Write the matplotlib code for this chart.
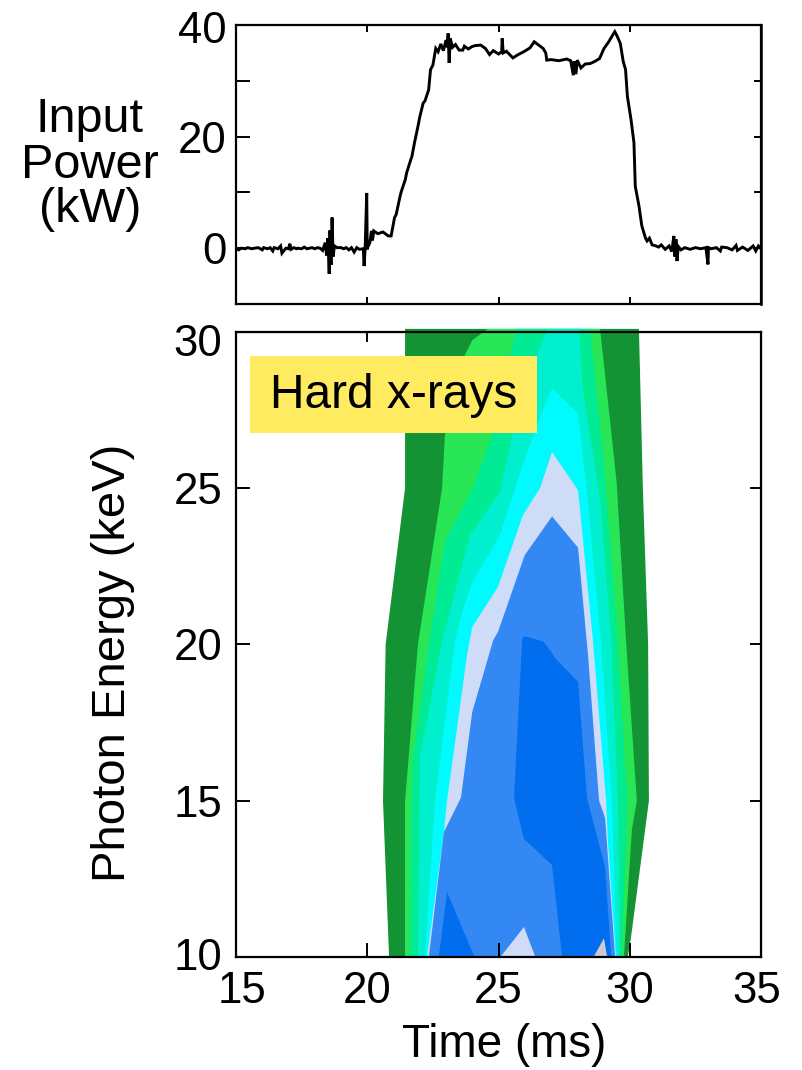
import matplotlib
matplotlib.use("Agg")
import matplotlib.pyplot as plt
from matplotlib.patches import Rectangle
from matplotlib.transforms import ScaledTranslation

plt.rcParams['font.family'] = ['Liberation Sans', 'DejaVu Sans']

# ---------- input power trace (time ms, power kW) ----------
time_ms = [15.0,15.1,15.2,15.35,15.45,15.6,15.7,15.85,16.0,16.05,16.2,16.3,16.4,16.45,16.6,16.7,16.75,16.9,
           17.0,17.05,17.1,17.2,17.3,17.35,17.5,17.6,17.7,17.9,18.0,18.1,18.2,18.3,18.4,18.45,18.5,18.55,18.58,
           18.62,18.66,18.7,18.75,18.85,19.0,19.1,19.2,19.3,19.4,19.5,19.6,19.7,19.85,19.88,19.92,19.98,20.0,20.02,
           20.1,20.16,20.2,20.25,20.4,20.6,20.8,20.91,21.04,21.1,21.25,21.3,21.45,21.5,21.66,21.7,21.8,21.85,21.93,
           22.0,22.13,22.2,22.34,22.41,22.5,22.61,22.7,22.8,22.9,23.0,23.05,23.08,23.12,23.16,23.25,23.36,23.5,
           23.64,23.7,23.85,23.98,24.1,24.32,24.5,24.66,24.8,25.0,25.12,25.14,25.18,25.3,25.55,25.75,25.96,
           26.2,26.36,26.5,26.7,26.8,26.84,27.0,27.3,27.6,27.75,27.85,27.88,27.95,28.0,28.14,28.3,28.5,
           28.68,28.85,29.02,29.2,29.35,29.43,29.52,29.64,29.75,29.84,29.91,30.05,30.16,30.21,30.35,30.46,
           30.6,30.66,30.75,30.85,31.0,31.1,31.2,31.35,31.5,31.6,31.68,31.72,31.76,31.8,31.85,31.95,32.1,32.3,
           32.5,32.7,32.9,32.98,33.0,33.1,33.3,33.45,33.5,33.7,33.9,34.05,34.1,34.3,34.5,34.7,34.8,34.9,35.0]
power_kw = [0.0,-0.3,0.0,-0.1,0.1,-0.1,0.0,0.1,-0.3,0.1,-0.1,0.1,-0.5,0.1,-0.1,0.4,-0.9,0.0,
            -0.1,0.8,-0.2,0.1,-0.1,0.0,-0.1,0.2,-0.1,0.1,-0.1,0.1,0.0,-0.4,1.0,-1.3,1.8,-4.6,3.2,
            -3.0,5.5,-1.5,0.4,0.1,0.1,-0.1,0.1,-0.3,0.1,-0.7,0.1,-0.2,-0.1,-3.2,0.0,9.9,-0.2,0.2,
            1.0,3.1,1.4,3.1,2.6,2.9,2.2,2.2,5.5,6.0,9.3,10.2,12.3,13.5,15.9,16.4,18.9,20.0,21.8,
            23.5,26.0,26.4,28.4,32.0,32.8,35.8,35.2,36.6,35.4,37.3,36.0,38.5,33.2,37.6,36.0,36.5,35.5,
            35.5,36.2,35.7,36.1,36.3,36.4,35.8,34.7,35.4,34.8,35.2,37.6,35.0,35.3,34.1,34.7,35.2,
            35.9,37.0,36.5,35.8,35.0,33.7,33.8,33.6,33.9,33.6,31.0,33.5,31.2,33.7,32.3,33.0,33.1,
            33.5,34.0,35.8,37.0,38.2,38.8,38.0,36.7,33.5,32.0,27.2,23.0,18.9,11.1,7.6,4.0,
            1.8,1.3,1.8,0.6,0.4,0.2,0.6,-0.2,0.4,-0.6,2.2,-1.5,1.6,-2.3,0.3,-0.3,0.1,-0.2,
            0.1,-0.1,0.1,-2.9,0.1,-0.1,0.1,-0.5,0.2,0.1,-0.3,0.5,-0.4,0.2,-0.4,0.4,-0.5,0.4,-0.1]
power_ticks = [-10, 0, 10, 20, 30, 40]
power_labels = ['', '0', '', '20', '', '40']

# ---------- hard x-ray contour bands, outer to inner (time ms, energy keV) ----------
band1_t = [20.83,20.6,20.7,21.44,21.44,30.35,30.5,30.7,30.73,30.05,29.93]
band1_e = [10.03,15,20,25,30.1,30.1,25,20,15,10.64,10.03]
band2_t = [21.44,21.44,21.93,22.85,22.96,23.72,24.0,24.6,28.87,29.5,29.86,30.27,30.08,29.78]
band2_e = [10.03,15,20,25,26.7,29.26,29.74,30.1,30.1,25.2,20.1,15,14.06,10.03]
band3_t = [21.63,21.68,21.75,22.35,22.96,24.03,24.75,25.67,28.49,29.06,29.55,29.9,29.7]
band3_e = [10.03,15,16.4,20,23.3,25,26.7,30.1,30.1,25.4,20.1,15,10.03]
band4_t = [21.93,22.0,22.85,23.91,25.06,25.55,26.47,26.85,28.07,28.22,28.87,29.3,29.55,29.63]
band4_e = [10.03,16.4,20.1,23.5,24.9,26.8,29.3,30.1,30.1,28.08,24.7,20.1,15,10.03]
band5_t = [22.2,22.58,23.34,23.6,24.0,25.06,25.82,26.5,27.04,28.03,28.37,28.9,29.32,29.51]
band5_e = [10.03,15,20.1,21.0,22.0,23.5,25.5,27.1,28.2,27.4,24.9,20.1,15,10.03]
band6_t = [22.28,22.92,23.04,23.8,24.0,24.98,25.93,26.58,27.04,28.03,28.6,29.1,29.17,29.47]
band6_e = [10.03,14,15,19.66,20.56,21.84,24.14,25,26.16,24.94,20.1,15,13.7,10.03]
band7_t = [22.35,22.92,23.57,24.0,24.8,24.98,26.0,27.04,28.03,28.41,28.83,29.06,29.44]
band7_e = [10.03,14,15.1,17.84,20.14,20.4,22.86,24.1,23.1,19.66,15,14.45,10.03]
band8_t = [25.9,25.97,26.7,27.04,27.15,28.03,28.37,29.06,29.29,27.42,27.04,25.97,25.59]
band8_e = [20.14,20.27,20.1,19.73,19.57,18.8,15.09,12.88,10.03,10.03,12.94,13.78,15.09]
patch_dark_t = [22.73,23.04,24.07]
patch_dark_e = [10.03,12.08,10.03]
patch_light_t = [25.1,25.97,26.39]
patch_light_e = [10.03,10.96,10.03]
patch_grey_t = [28.64,29.02,29.13]
patch_grey_e = [10.03,10.6,10.03]

band_colors = ['#149334','#28E655','#00EB93','#00EFCF','#00FBFF','#CFDCF7','#3388F3','#006EEF']
time_ticks = [15,20,25,30,35]
energy_ticks = [10,15,20,25,30]

W, H = 802, 1070
fig = plt.figure(figsize=(W/100, H/100), dpi=100)
L, R = 236, 761
ax1 = fig.add_axes([L/W, 1-304/H, (R-L)/W, 279/H])
ax2 = fig.add_axes([L/W, 1-957/H, (R-L)/W, 625/H])

FS = 31.5
ax1.plot(time_ms, power_kw, color='black', lw=2.1, solid_joinstyle='miter')
ax1.set_xlim(15, 35); ax1.set_ylim(-10, 40)
ax1.set_yticks(power_ticks); ax1.set_yticklabels(power_labels, fontsize=FS)
ax1.set_xticks(time_ticks); ax1.set_xticklabels([])
ax1.tick_params(axis='y', direction='in', length=10, width=1.4, left=True, right=False, pad=7)
ax1.tick_params(axis='x', direction='in', length=5, width=1.4, top=True, bottom=True)
ax1r = ax1.secondary_yaxis('right')
ax1r.set_yticks(power_ticks); ax1r.set_yticklabels([])
ax1r.tick_params(direction='in', length=5, width=1.4)
ax1r.spines['right'].set_linewidth(1.8)

bands = [(band1_t,band1_e),(band2_t,band2_e),(band3_t,band3_e),(band4_t,band4_e),
         (band5_t,band5_e),(band6_t,band6_e),(band7_t,band7_e),(band8_t,band8_e)]
for (t, e), c in zip(bands, band_colors):
    ax2.fill(t, e, color=c, lw=0, clip_on=False, zorder=1)
ax2.fill(patch_dark_t, patch_dark_e, color=band_colors[7], lw=0, zorder=1.1)
ax2.fill(patch_light_t, patch_light_e, color=band_colors[5], lw=0, zorder=1.1)
ax2.fill(patch_grey_t, patch_grey_e, color='#CCCCCC', lw=0, zorder=1.1)
ax2.set_xlim(15, 35); ax2.set_ylim(10, 30)
ax2.set_xticks(time_ticks); ax2.set_xticklabels([str(v) for v in time_ticks], fontsize=FS)
ax2.set_yticks(energy_ticks); ax2.set_yticklabels([str(v) for v in energy_ticks], fontsize=FS)
ax2.tick_params(axis='y', direction='in', length=10, width=1.4, left=True, right=False, pad=10)
ax2.tick_params(axis='x', direction='in', length=10, width=1.4, bottom=True, top=False, pad=10)
ax2t = ax2.secondary_xaxis('top')
ax2t.set_xticks(time_ticks); ax2t.set_xticklabels([])
ax2t.tick_params(direction='in', length=7, width=1.4)
ax2r = ax2.secondary_yaxis('right')
ax2r.set_yticks(energy_ticks); ax2r.set_yticklabels([])
ax2r.tick_params(direction='in', length=8, width=1.4)
for ax in (ax1, ax2):
    for s in ax.spines.values():
        s.set_linewidth(1.6)
    ax.set_facecolor('white')

def shift(label, dx_px, dy_px):
    label.set_transform(label.get_transform() + ScaledTranslation(dx_px/100, dy_px/100, fig.dpi_scale_trans))
ylabels2 = ax2.get_yticklabels()
shift(ylabels2[0], 0, 3); shift(ylabels2[-1], 0, -8)
xlabels2 = ax2.get_xticklabels()
shift(xlabels2[0], 6, 0); shift(xlabels2[-1], -4, 0)
shift(ax1.get_yticklabels()[-1], 0, -2)

fig.patches.append(Rectangle((250/W, 1-433/H), 287/W, 77/H, transform=fig.transFigure,
                             facecolor='#FFEB60', edgecolor='none', zorder=5))
fig.text(393.5/W, 1-395/H, 'Hard x-rays', fontsize=34.5, ha='center', va='center', zorder=6)
fig.text(90/W, 1-165/H, 'Input\nPower\n(kW)', fontsize=35, ha='center', va='center', linespacing=1.0)
fig.text(113/W, 1-663/H, 'Photon Energy (keV)', fontsize=34, rotation=90, ha='center', va='center')
fig.text(504/W, 1-1045/H, 'Time (ms)', fontsize=33, ha='center', va='center')
fig.savefig('out.png', dpi=100)
